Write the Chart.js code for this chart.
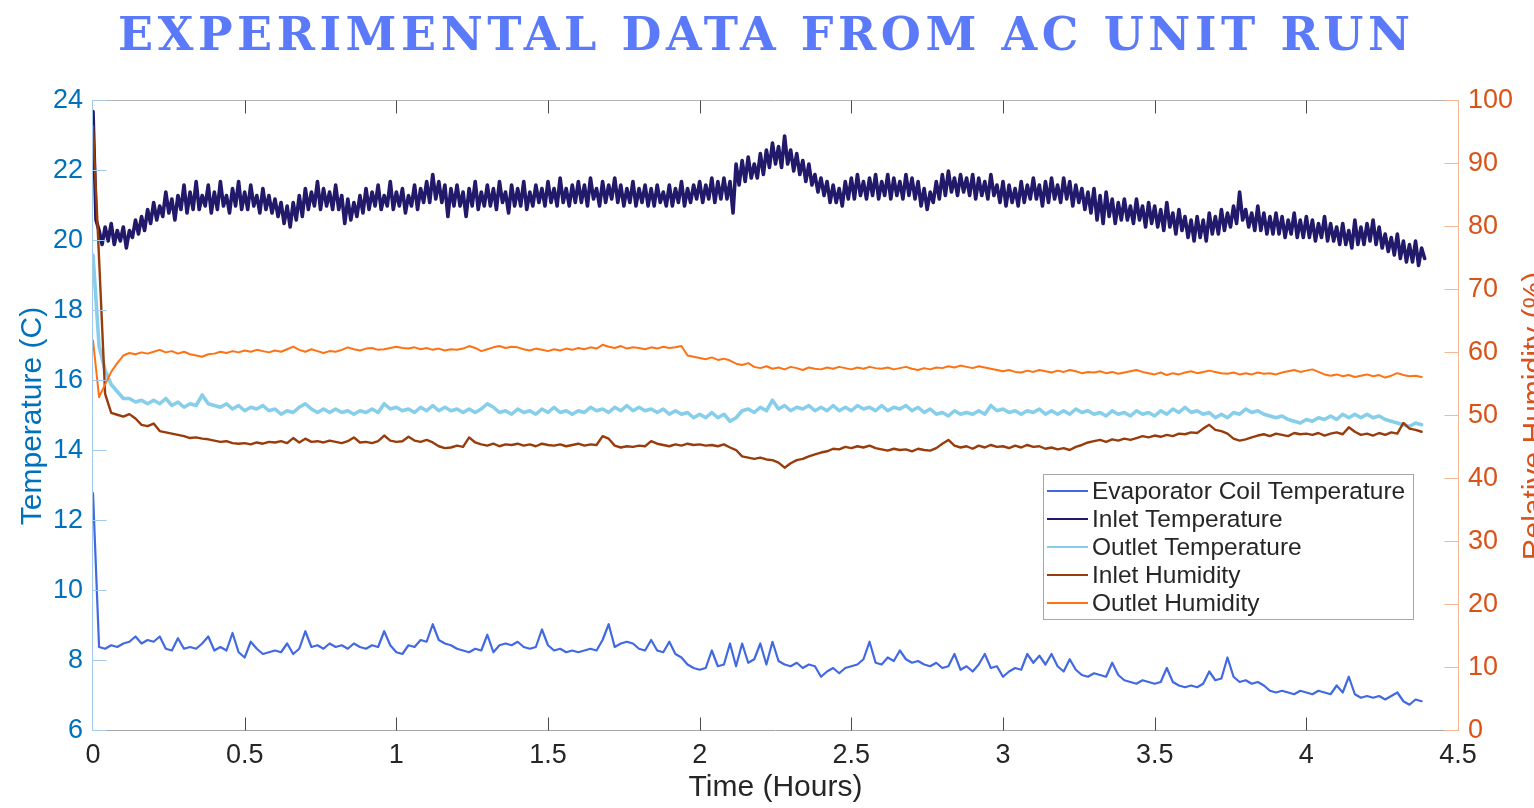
<!DOCTYPE html>
<html>
<head>
<meta charset="utf-8">
<title>Experimental Data from AC Unit Run</title>
<script src="https://cdn.jsdelivr.net/npm/chart.js@4.4.1/dist/chart.umd.min.js"></script>
<style>
  html, body { margin: 0; padding: 0; background: #fff; }
  #wrap { position: relative; width: 1534px; height: 808px; overflow: hidden; }
  #mycanvas { position: absolute; left: 0; top: 0; }
  #title {
    position: absolute; left: 118px; top: 12px;
    font-family: "DejaVu Serif", "Liberation Serif", serif;
    font-weight: bold; font-size: 46px; line-height: 45px;
    color: #5b7af9; white-space: nowrap; z-index: 2;
  }
</style>
</head>
<body>
<div id="wrap">
  <div id="title">EXPERIMENTAL DATA FROM AC UNIT RUN</div>
  <canvas id="mycanvas" width="1534" height="808"></canvas>
</div>
<script>
// sample spacing in hours
var inletStep = 0.01;
var step = 0.02;

// Inlet Temperature (C), one value every 0.01 h
var inletTemp = [
  23.7,20.6,20.3,19.9,20.4,20.0,20.5,19.9,20.3,20.0,
  20.4,19.8,20.3,20.1,20.6,20.2,20.7,20.3,20.9,20.5,
  21.1,20.6,21.0,20.7,21.4,20.8,21.2,20.6,21.3,20.9,
  21.6,20.8,21.4,20.9,21.7,20.9,21.3,21.0,21.6,20.8,
  21.4,20.9,21.7,21.0,21.3,20.8,21.5,21.0,21.7,20.9,
  21.4,20.9,21.6,21.0,21.3,20.8,21.5,20.9,21.3,20.8,
  21.2,20.7,21.1,20.5,21.0,20.4,21.1,20.6,21.3,20.7,
  21.5,20.9,21.4,21.0,21.7,20.9,21.5,21.0,21.4,20.9,
  21.6,20.9,21.3,20.5,21.2,20.6,21.1,20.7,21.3,20.8,
  21.5,20.9,21.4,21.0,21.6,20.9,21.3,21.0,21.7,20.9,
  21.4,21.0,21.5,20.8,21.3,21.0,21.6,20.9,21.5,21.1,
  21.7,21.1,21.9,21.2,21.7,21.1,21.6,20.7,21.5,21.0,
  21.6,21.0,21.4,20.7,21.5,21.0,21.7,20.9,21.4,21.0,
  21.6,21.0,21.5,20.9,21.7,21.1,21.4,20.8,21.6,21.0,
  21.5,21.0,21.7,20.9,21.4,21.0,21.6,21.1,21.5,21.0,
  21.7,21.1,21.5,21.0,21.8,21.1,21.5,21.0,21.6,21.1,
  21.7,21.1,21.6,21.0,21.8,21.2,21.5,21.0,21.7,21.1,
  21.6,21.2,21.8,21.1,21.6,21.0,21.5,21.1,21.7,21.0,
  21.5,21.1,21.6,21.0,21.5,21.0,21.6,21.1,21.4,21.0,
  21.6,21.0,21.5,21.1,21.7,21.0,21.5,21.1,21.6,21.2,
  21.7,21.1,21.6,21.2,21.8,21.1,21.7,21.2,21.8,21.2,
  21.7,20.8,22.2,21.6,22.3,21.7,22.4,21.8,22.2,21.8,
  22.5,21.9,22.6,22.1,22.8,22.2,22.7,22.1,23.0,22.2,
  22.6,22.0,22.5,21.9,22.3,21.7,22.2,21.6,21.9,21.4,
  21.8,21.3,21.7,21.1,21.6,21.1,21.5,21.0,21.7,21.2,
  21.8,21.2,21.9,21.3,21.7,21.2,21.8,21.3,21.9,21.2,
  21.7,21.3,21.9,21.2,21.8,21.3,21.7,21.2,21.9,21.3,
  21.8,21.2,21.7,21.0,21.5,20.9,21.4,21.1,21.7,21.2,
  21.9,21.3,22.0,21.4,21.8,21.3,21.9,21.4,21.8,21.3,
  21.9,21.2,21.8,21.3,21.7,21.2,21.9,21.3,21.6,21.1,
  21.7,21.0,21.6,21.1,21.5,21.0,21.7,21.1,21.6,21.2,
  21.8,21.2,21.6,21.0,21.7,21.1,21.8,21.2,21.6,21.1,
  21.8,21.2,21.7,21.0,21.6,21.1,21.5,20.9,21.4,20.8,
  21.5,20.6,21.3,20.5,21.4,20.7,21.2,20.5,21.1,20.6,
  21.2,20.6,21.0,20.5,21.2,20.6,21.0,20.4,21.1,20.5,
  21.0,20.4,20.9,20.3,21.1,20.4,20.8,20.2,20.9,20.3,
  20.7,20.1,20.6,20.0,20.7,20.1,20.6,20.0,20.8,20.2,
  20.7,20.2,20.9,20.3,20.8,20.4,21.0,20.5,21.4,20.6,
  20.9,20.4,20.8,20.3,21.0,20.3,20.8,20.2,20.7,20.2,
  20.8,20.2,20.7,20.1,20.6,20.2,20.8,20.1,20.6,20.1,
  20.7,20.1,20.6,20.0,20.5,20.1,20.7,20.0,20.5,20.0,
  20.4,19.9,20.5,19.9,20.3,19.8,20.6,19.9,20.4,19.9,
  20.5,20.0,20.6,19.9,20.4,19.8,20.2,19.7,20.1,19.6,
  20.2,19.5,20.0,19.4,19.9,19.4,20.0,19.3,19.8,19.5
];

// Evaporator Coil Temperature (C), every 0.02 h
var coilTemp = [
  12.8,8.4,8.35,8.45,8.4,8.5,8.55,8.7,8.5,8.6,
  8.55,8.7,8.35,8.3,8.65,8.35,8.4,8.35,8.5,8.7,
  8.3,8.4,8.3,8.8,8.25,8.1,8.55,8.35,8.2,8.25,
  8.3,8.25,8.5,8.2,8.35,8.85,8.4,8.45,8.35,8.5,
  8.4,8.45,8.35,8.5,8.4,8.35,8.45,8.4,8.85,8.45,
  8.25,8.2,8.45,8.4,8.6,8.55,9.05,8.6,8.5,8.45,
  8.35,8.3,8.25,8.35,8.3,8.75,8.25,8.45,8.5,8.45,
  8.55,8.4,8.35,8.4,8.9,8.45,8.3,8.35,8.25,8.3,
  8.25,8.3,8.35,8.3,8.6,9.05,8.4,8.5,8.55,8.5,
  8.35,8.3,8.6,8.3,8.25,8.55,8.2,8.1,7.9,7.8,
  7.75,7.8,8.3,7.85,7.9,8.5,7.85,8.5,7.95,8.05,
  8.5,7.9,8.55,8.0,7.9,7.85,7.95,7.8,7.9,7.85,
  7.55,7.7,7.8,7.65,7.8,7.85,7.9,8.05,8.55,7.95,
  7.9,8.1,8.0,8.3,8.05,7.95,8.0,7.9,7.85,7.95,
  7.8,7.85,8.2,7.75,7.85,7.7,7.9,8.2,7.8,7.85,
  7.55,7.7,7.8,7.75,8.2,7.95,8.15,7.9,8.2,7.85,
  7.7,8.05,7.75,7.6,7.55,7.65,7.6,7.55,7.95,7.6,
  7.45,7.4,7.35,7.45,7.4,7.35,7.4,7.8,7.4,7.3,
  7.25,7.3,7.25,7.35,7.7,7.45,7.5,8.1,7.55,7.4,
  7.45,7.35,7.4,7.3,7.15,7.1,7.15,7.1,7.05,7.15,
  7.1,7.05,7.15,7.1,7.05,7.3,7.1,7.55,7.05,6.95,
  7.0,6.95,7.0,6.9,7.0,7.1,6.85,6.75,6.9,6.85
];

// Outlet Temperature (C), every 0.02 h
var outletTemp = [
  19.6,17.0,16.3,15.9,15.7,15.5,15.5,15.4,15.45,15.35,
  15.45,15.35,15.5,15.3,15.4,15.25,15.35,15.3,15.6,15.35,
  15.3,15.25,15.35,15.2,15.3,15.15,15.25,15.2,15.3,15.15,
  15.2,15.05,15.15,15.1,15.25,15.35,15.2,15.1,15.2,15.1,
  15.2,15.1,15.15,15.05,15.15,15.1,15.2,15.1,15.35,15.2,
  15.25,15.15,15.2,15.1,15.25,15.15,15.3,15.15,15.25,15.15,
  15.2,15.1,15.2,15.1,15.2,15.35,15.25,15.1,15.15,15.05,
  15.2,15.1,15.15,15.05,15.2,15.1,15.25,15.1,15.15,15.05,
  15.15,15.1,15.25,15.15,15.2,15.1,15.25,15.15,15.3,15.15,
  15.25,15.15,15.2,15.1,15.2,15.05,15.15,15.05,15.1,14.95,
  15.05,14.95,15.1,14.95,15.05,14.85,14.95,15.15,15.2,15.1,
  15.25,15.15,15.45,15.2,15.3,15.15,15.25,15.2,15.3,15.15,
  15.25,15.15,15.3,15.15,15.25,15.15,15.3,15.2,15.25,15.15,
  15.3,15.15,15.25,15.2,15.3,15.15,15.25,15.1,15.2,15.05,
  15.1,15.0,15.15,15.05,15.1,15.05,15.15,15.05,15.3,15.15,
  15.2,15.1,15.15,15.05,15.15,15.1,15.2,15.05,15.15,15.05,
  15.15,15.05,15.2,15.1,15.15,15.05,15.1,15.0,15.15,15.05,
  15.1,15.0,15.15,15.05,15.1,15.0,15.15,15.05,15.2,15.1,
  15.25,15.1,15.15,15.05,15.1,14.95,15.05,14.95,15.1,15.05,
  15.2,15.1,15.15,15.05,15.0,14.95,15.0,14.9,14.85,14.8,
  14.9,14.85,14.95,14.9,15.0,14.9,15.05,14.95,15.05,14.95,
  15.05,14.95,15.0,14.9,14.85,14.8,14.75,14.7,14.8,14.75
];

// Inlet Humidity (%), every 0.02 h
var inletHum = [
  96.0,75.0,53.5,50.5,50.2,49.9,50.3,49.6,48.6,48.4,
  48.8,47.6,47.4,47.2,47.0,46.8,46.5,46.6,46.4,46.3,
  46.1,45.9,46.0,45.7,45.6,45.7,45.5,45.8,45.6,45.9,
  45.8,46.0,45.7,46.5,45.8,46.4,45.9,46.0,45.8,46.1,
  45.9,45.7,46.0,46.6,45.8,45.9,45.7,46.0,46.9,46.1,
  45.9,46.0,46.7,46.1,45.9,46.2,45.8,45.2,44.9,45.0,
  45.3,45.1,46.6,45.8,45.5,45.3,45.6,45.2,45.5,45.4,
  45.6,45.3,45.5,45.2,45.6,45.4,45.3,45.5,45.2,45.4,
  45.6,45.3,45.5,45.4,46.8,46.4,45.3,45.0,45.2,45.1,
  45.3,45.2,46.0,45.6,45.4,45.2,45.5,45.3,45.6,45.4,
  45.5,45.3,45.4,45.2,45.5,45.0,44.6,43.6,43.4,43.2,
  43.4,43.1,43.0,42.6,41.8,42.5,43.0,43.2,43.6,43.9,
  44.2,44.4,44.8,44.7,45.1,44.9,45.2,45.0,45.3,44.9,
  44.7,44.5,44.8,44.6,44.7,44.4,44.8,44.6,44.5,44.9,
  45.6,46.2,45.3,45.0,45.2,44.8,45.3,45.0,45.4,45.1,
  45.2,44.9,45.3,45.0,45.4,45.1,45.2,44.8,45.0,44.7,
  44.9,44.6,45.1,45.4,45.8,46.0,46.2,45.9,46.3,46.1,
  46.4,46.2,46.5,46.8,46.6,46.9,46.7,47.0,46.8,47.2,
  47.1,47.4,47.3,48.0,48.6,47.8,47.6,47.2,46.4,46.1,
  46.3,46.6,46.9,47.1,46.8,47.2,47.0,46.8,47.3,47.1,
  47.2,47.0,47.3,46.9,47.2,47.4,47.1,48.2,47.5,47.0,
  47.2,46.9,47.3,47.0,47.4,47.2,48.9,48.0,47.8,47.5
];

// Outlet Humidity (%), every 0.02 h
var outletHum = [
  62.0,53.0,55.0,57.0,58.4,59.6,60.0,59.8,60.1,59.9,
  60.2,60.5,60.1,60.3,59.9,60.2,59.8,59.6,59.4,59.8,
  59.9,60.2,60.0,60.3,60.1,60.4,60.2,60.5,60.3,60.1,
  60.4,60.2,60.6,61.0,60.5,60.2,60.6,60.3,60.0,60.3,
  60.2,60.5,60.9,60.6,60.4,60.7,60.8,60.5,60.6,60.8,
  61.0,60.8,60.7,60.9,60.6,60.8,60.5,60.7,60.4,60.6,
  60.5,60.7,61.1,60.8,60.3,60.6,60.9,61.1,60.8,61.0,
  60.9,60.6,60.4,60.7,60.5,60.3,60.6,60.4,60.7,60.5,
  60.8,60.6,60.9,60.7,61.3,61.0,60.8,61.1,60.7,60.9,
  60.8,60.6,60.9,60.7,61.0,60.8,60.9,61.1,59.6,59.4,
  59.2,59.0,59.3,58.9,59.1,58.8,58.3,58.1,58.4,57.8,
  57.6,57.9,57.5,57.7,57.4,57.8,57.6,57.3,57.7,57.5,
  57.4,57.7,57.5,57.8,57.6,57.4,57.7,57.5,57.8,57.6,
  57.5,57.7,57.4,57.6,57.8,57.5,57.3,57.6,57.4,57.7,
  57.6,57.9,57.7,58.0,57.8,57.6,57.9,57.7,57.5,57.3,
  57.1,57.3,57.0,56.9,57.2,57.0,57.3,57.1,56.9,57.2,
  57.0,57.3,57.1,56.8,57.0,56.9,57.1,56.8,57.0,56.7,
  56.9,57.1,57.3,57.0,56.8,56.6,56.9,56.5,56.8,56.6,
  56.9,57.1,56.8,57.0,57.2,57.0,56.8,56.7,56.9,56.6,
  56.8,56.6,56.9,56.7,56.8,56.6,56.9,57.1,57.3,57.0,
  57.2,57.4,57.0,56.6,56.4,56.6,56.3,56.5,56.2,56.4,
  56.6,56.3,56.5,56.1,56.4,56.8,56.5,56.3,56.4,56.2
];

var xTicks = [0, 0.5, 1, 1.5, 2, 2.5, 3, 3.5, 4, 4.5];

function toPoints(values, dt) {
  return values.map(function(v, i) { return {x: +(i * dt).toFixed(3), y: v}; });
}

var sansFont = "'Liberation Sans', Arial, sans-serif";

// MATLAB style box: inward ticks, coloured y axes
var framePlugin = {
  id: 'frame',
  afterDatasetsDraw: function(chart) {
    var ctx = chart.ctx, a = chart.chartArea, s = chart.scales;
    var L = Math.round(a.left) - 0.5, R = Math.round(a.right) + 0.5;
    var T = Math.round(a.top) - 0.5, B = Math.round(a.bottom) - 0.5;
    ctx.save();
    ctx.lineWidth = 1;
    ctx.strokeStyle = '#b4b4b4';
    ctx.beginPath(); ctx.moveTo(L, T); ctx.lineTo(R, T); ctx.stroke();
    ctx.strokeStyle = '#a6a6a6';
    ctx.beginPath(); ctx.moveTo(L, B); ctx.lineTo(R, B); ctx.stroke();
    ctx.strokeStyle = '#4a4a4a';
    s.x.ticks.forEach(function(t) {
      if (t.value <= 0 || t.value >= 4.5) return;
      var px = Math.round(s.x.getPixelForValue(t.value)) + 0.5;
      ctx.beginPath();
      ctx.moveTo(px, B); ctx.lineTo(px, B - 13);
      ctx.moveTo(px, T); ctx.lineTo(px, T + 13);
      ctx.stroke();
    });
    ctx.strokeStyle = '#a3c9ec';
    ctx.beginPath(); ctx.moveTo(L, T); ctx.lineTo(L, B + 0.5); ctx.stroke();
    s.y.ticks.forEach(function(t) {
      var py = Math.round(s.y.getPixelForValue(t.value)) - 0.5;
      ctx.beginPath(); ctx.moveTo(L, py); ctx.lineTo(L + 14, py); ctx.stroke();
    });
    ctx.strokeStyle = '#f3b896';
    ctx.beginPath(); ctx.moveTo(R, T); ctx.lineTo(R, B + 0.5); ctx.stroke();
    s.y1.ticks.forEach(function(t) {
      var py = Math.round(s.y1.getPixelForValue(t.value)) - 0.5;
      ctx.beginPath(); ctx.moveTo(R - 14, py); ctx.lineTo(R, py); ctx.stroke();
    });
    ctx.restore();
  },
  afterDraw: function(chart) {
    var ctx = chart.ctx;
    ctx.save();
    // right axis title, reads bottom to top like the left one
    ctx.font = '30px ' + sansFont;
    ctx.fillStyle = '#D95319';
    ctx.translate(1543, 416);
    ctx.rotate(-Math.PI / 2);
    ctx.textAlign = 'center';
    ctx.textBaseline = 'alphabetic';
    ctx.fillText('Relative Humidity (%)', 0, 0);
    ctx.restore();

    // legend box inside the plot
    ctx.save();
    var bx = 1043.5, by = 474.5, bw = 370, bh = 145;
    ctx.fillStyle = '#fff';
    ctx.fillRect(bx, by, bw, bh);
    ctx.strokeStyle = '#a6a6a6';
    ctx.lineWidth = 1;
    ctx.strokeRect(bx, by, bw, bh);
    ctx.font = '24.5px ' + sansFont;
    ctx.textBaseline = 'middle';
    ctx.fillStyle = '#262626';
    chart.data.datasets.forEach(function(ds, i) {
      var y = 491 + i * 28;
      ctx.strokeStyle = ds.borderColor;
      ctx.lineWidth = 2;
      ctx.beginPath(); ctx.moveTo(1047, y); ctx.lineTo(1088, y); ctx.stroke();
      ctx.fillText(ds.label, 1092, y + 1);
    });
    ctx.restore();
  }
};

var ctx = document.getElementById('mycanvas');
var chart = new Chart(ctx, {
  type: 'line',
  data: {
    datasets: [
      { label: 'Evaporator Coil Temperature', data: toPoints(coilTemp, step),
        borderColor: '#4169E1', borderWidth: 2.2, yAxisID: 'y', order: 4 },
      { label: 'Inlet Temperature', data: toPoints(inletTemp, inletStep),
        borderColor: '#22196b', borderWidth: 3.6, yAxisID: 'y', order: 3 },
      { label: 'Outlet Temperature', data: toPoints(outletTemp, step),
        borderColor: '#87CEEB', borderWidth: 3.6, yAxisID: 'y', order: 2 },
      { label: 'Inlet Humidity', data: toPoints(inletHum, step),
        borderColor: '#983c0c', borderWidth: 2.4, yAxisID: 'y1', order: 1 },
      { label: 'Outlet Humidity', data: toPoints(outletHum, step),
        borderColor: '#ff7214', borderWidth: 2, yAxisID: 'y1', order: 0 }
    ]
  },
  options: {
    responsive: false,
    animation: false,
    layout: { padding: { top: 101, left: 0, right: 0, bottom: 0 } },
    elements: {
      point: { radius: 0 },
      line: { tension: 0, borderJoinStyle: 'round', borderCapStyle: 'round', fill: false }
    },
    plugins: {
      legend: { display: false },
      tooltip: { enabled: false },
      title: { display: false }
    },
    scales: {
      x: {
        type: 'linear', min: 0, max: 4.5,
        afterBuildTicks: function(s) { s.ticks = xTicks.map(function(v) { return {value: v}; }); },
        ticks: { autoSkip: false, maxRotation: 0, padding: 8, color: '#262626',
                 font: { family: sansFont, size: 27 },
                 callback: function(v) { return String(v); } },
        grid: { display: false, drawTicks: false },
        border: { display: false },
        title: { display: true, text: 'Time (Hours)', color: '#262626',
                 font: { family: sansFont, size: 30 }, padding: { top: 0, bottom: 2 } },
        afterFit: function(s) { s.height = 77; }
      },
      y: {
        position: 'left', min: 6, max: 24,
        ticks: { stepSize: 2, padding: 10, color: '#0072BD',
                 font: { family: sansFont, size: 27 } },
        grid: { display: false, drawTicks: false },
        border: { display: false },
        title: { display: true, text: 'Temperature (C)', color: '#0072BD',
                 font: { family: sansFont, size: 30 }, padding: { top: 15, bottom: 0 } },
        afterFit: function(s) { s.width = 93; }
      },
      y1: {
        position: 'right', min: 0, max: 100,
        ticks: { stepSize: 10, padding: 10, color: '#D95319',
                 font: { family: sansFont, size: 27 } },
        grid: { display: false, drawTicks: false },
        border: { display: false },
        afterFit: function(s) { s.width = 76; }
      }
    }
  },
  plugins: [framePlugin]
});

// spread the title letters over the same span as the reference
var title = document.getElementById('title');
var w0 = title.getBoundingClientRect().width;
title.style.letterSpacing = ((1292 - w0) / 33) + 'px';
</script>
</body>
</html>
